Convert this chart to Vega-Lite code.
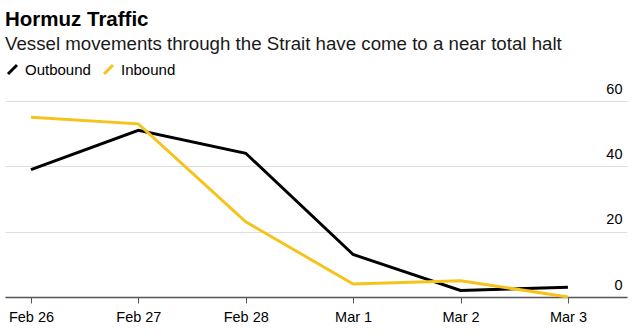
{
  "$schema": "https://vega.github.io/schema/vega-lite/v6.json",
  "width": 622,
  "height": 196,
  "autosize": {"type": "none"},
  "padding": {"left": 5, "top": 101, "right": 12, "bottom": 39},
  "title": {
    "text": "Hormuz Traffic",
    "subtitle": "Vessel movements through the Strait have come to a near total halt",
    "anchor": "start",
    "frame": "group",
    "font": "Liberation Sans",
    "fontSize": 20.5,
    "fontWeight": "bold",
    "color": "#000000",
    "subtitleFont": "Liberation Sans",
    "subtitleFontSize": 18.7,
    "subtitleColor": "#1a1a1a",
    "subtitlePadding": 5,
    "offset": 8
  },
  "config": {
    "view": {"stroke": null},
    "font": "Liberation Sans"
  },
  "data": {
    "values": [
      {"date": "2026-02-26T00:00:00", "direction": "Outbound", "value": 39},
      {"date": "2026-02-27T00:00:00", "direction": "Outbound", "value": 51},
      {"date": "2026-02-28T00:00:00", "direction": "Outbound", "value": 44},
      {"date": "2026-03-01T00:00:00", "direction": "Outbound", "value": 13},
      {"date": "2026-03-02T00:00:00", "direction": "Outbound", "value": 2},
      {"date": "2026-03-03T00:00:00", "direction": "Outbound", "value": 3},
      {"date": "2026-02-26T00:00:00", "direction": "Inbound", "value": 55},
      {"date": "2026-02-27T00:00:00", "direction": "Inbound", "value": 53},
      {"date": "2026-02-28T00:00:00", "direction": "Inbound", "value": 23},
      {"date": "2026-03-01T00:00:00", "direction": "Inbound", "value": 4},
      {"date": "2026-03-02T00:00:00", "direction": "Inbound", "value": 5},
      {"date": "2026-03-03T00:00:00", "direction": "Inbound", "value": 0}
    ]
  },
  "mark": {"type": "line", "strokeWidth": 3, "clip": false},
  "encoding": {
    "x": {
      "field": "date",
      "type": "temporal",
      "scale": {
        "domain": [
          {"year": 2026, "month": 2, "date": 25, "hours": 18, "minutes": 12},
          {"year": 2026, "month": 3, "date": 3, "hours": 13, "minutes": 12}
        ]
      },
      "axis": {
        "title": null,
        "tickCount": {"interval": "day", "step": 1},
        "format": "%b %-d",
        "grid": false,
        "domainColor": "#555555",
        "domainWidth": 1.5,
        "tickColor": "#555555",
        "tickWidth": 1,
        "tickSize": 6,
        "labelFontSize": 14.5,
        "labelColor": "#000000",
        "labelPadding": 7
      }
    },
    "y": {
      "field": "value",
      "type": "quantitative",
      "scale": {"domain": [0, 60]},
      "axis": {
        "title": null,
        "orient": "right",
        "values": [0, 20, 40, 60],
        "grid": true,
        "gridColor": "#dddddd",
        "gridWidth": 1,
        "domain": false,
        "ticks": false,
        "labelAlign": "right",
        "labelBaseline": "alphabetic",
        "labelPadding": -5,
        "labelOffset": -8,
        "labelFontSize": 14.5,
        "labelColor": "#000000"
      }
    },
    "color": {
      "field": "direction",
      "type": "nominal",
      "scale": {"domain": ["Outbound", "Inbound"], "range": ["#000000", "#f6c31c"]},
      "legend": {
        "title": null,
        "orient": "none",
        "legendX": 0,
        "legendY": -39,
        "direction": "horizontal",
        "symbolType": "M-1,1L1,-1",
        "symbolStrokeWidth": 3,
        "symbolSize": 80,
        "labelFontSize": 15,
        "labelColor": "#000000",
        "columnPadding": 7,
        "labelOffset": 5
      }
    }
  }
}
